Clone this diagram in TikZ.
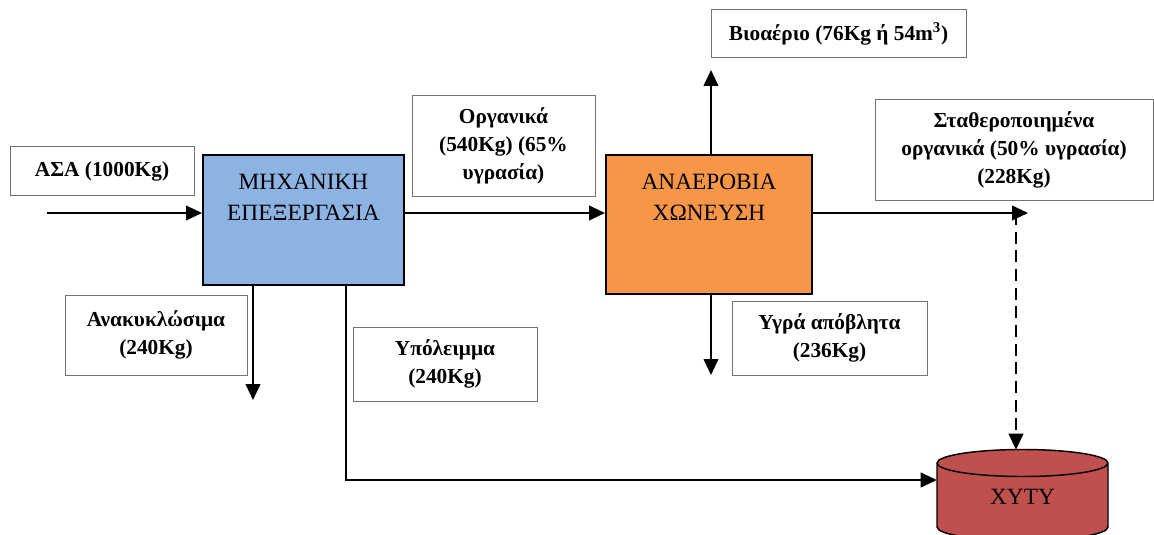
\documentclass[tikz,border=0pt]{standalone}
\usepackage{fontspec}
\setmainfont{Liberation Serif}
\usetikzlibrary{arrows.meta}
\definecolor{mechblue}{RGB}{141,179,226}
\definecolor{digorange}{RGB}{247,150,70}
\definecolor{landred}{RGB}{192,80,77}

\begin{document}
\begin{tikzpicture}[x=0.75pt,y=-0.75pt,
  flow/.style={line width=1.5pt, -{Triangle[length=12pt,width=11pt]}},
  tag/.style={draw=black!55, line width=0.75pt, fill=white, align=center,
    font=\fontsize{16}{21}\selectfont\bfseries, inner sep=2pt},
  procbox/.style={draw=black, line width=1.5pt, inner sep=0pt},
  proctext/.style={align=center, font=\fontsize{17.5}{23.5}\selectfont, inner sep=0pt}]

\clip (0,0) rectangle (1154,535);
\fill[white] (0,0) rectangle (1154,535);

% process boxes
\node[procbox, fill=mechblue, minimum width=150.75pt, minimum height=97.5pt] (mech) at (303.5,220) {};
\node[proctext] (mechtxt) at (303.5,197) {ΜΗΧΑΝΙΚΗ\\ΕΠΕΞΕΡΓΑΣΙΑ};
\node[procbox, fill=digorange, minimum width=154.5pt, minimum height=104.25pt] (anaer) at (709,224.5) {};
\node[proctext] (anaertxt) at (709,197) {ΑΝΑΕΡΟΒΙΑ\\ΧΩΝΕΥΣΗ};

% stream labels
\node[tag, minimum width=138pt, minimum height=36pt] (asa) at (102,171) {ΑΣΑ (1000Kg)};
\node[tag, minimum width=137.25pt, minimum height=75pt] (org) at (503.5,146) {Οργανικά\\(540Kg) (65\%\\υγρασία)};
\node[tag, minimum width=191.25pt, minimum height=36pt] (bio) at (838.5,34) {Βιοαέριο (76Kg ή 54m\textsuperscript{3})};
\node[tag, minimum width=208.5pt, minimum height=75pt] (stab) at (1014,150) {Σταθεροποιημένα\\οργανικά (50\% υγρασία)\\(228Kg)};
\node[tag, minimum width=136.5pt, minimum height=60pt] (recy) at (156,335) {Ανακυκλώσιμα\\(240Kg)};
\node[tag, minimum width=138pt, minimum height=55.5pt] (resid) at (445,364) {Υπόλειμμα\\(240Kg)};
\node[tag, minimum width=146.25pt, minimum height=55.5pt] (liq) at (829.5,338) {Υγρά απόβλητα\\(236Kg)};

% landfill cylinder
\fill[landred] (937,463) -- (937,527)
  arc[start angle=180, end angle=360, x radius=64.125pt, y radius=10.125pt]
  -- (1108,463)
  arc[start angle=0, end angle=180, x radius=64.125pt, y radius=10.125pt] -- cycle;
\draw[line width=1.1pt] (937,463) -- (937,527)
  arc[start angle=180, end angle=360, x radius=64.125pt, y radius=10.125pt]
  -- (1108,463)
  arc[start angle=0, end angle=180, x radius=64.125pt, y radius=10.125pt]
  arc[start angle=180, end angle=360, x radius=64.125pt, y radius=10.125pt];
\node[inner sep=0pt, minimum width=128.25pt, minimum height=63.75pt] (xyty) at (1022.5,492.5) {};
\node[proctext] (xytytxt) at (1022.5,497) {ΧΥΤΥ};

% free ends and bends
\coordinate (feed) at (47,213);
\coordinate (recyend) at (253,400);
\coordinate (resbend) at (346,480);
\coordinate (gasend) at (711,70);
\coordinate (liqend) at (711,375);
\coordinate (outend) at (1028,213);
\coordinate (split) at (1016,213);

% flows
\draw[flow] (feed) -- (feed -| mech.west);
\draw[flow] (mech.east |- feed) -- (anaer.west |- feed);
\draw[flow] (anaer.east |- feed) -- (outend);
\draw[flow] (mech.south -| recyend) -- (recyend);
\draw[flow] (mech.south -| resbend) -- (resbend) -- (resbend -| xyty.west);
\draw[flow] (anaer.north -| gasend) -- (gasend);
\draw[flow] (anaer.south -| liqend) -- (liqend);
\draw[flow, dash pattern=on 9pt off 5pt] (split) -- (split |- xyty.north);
\end{tikzpicture}
\end{document}
